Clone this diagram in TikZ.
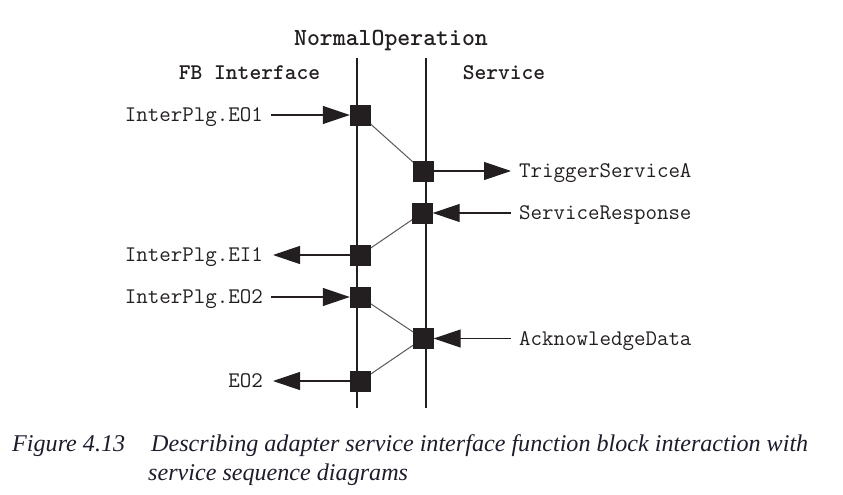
\documentclass[tikz,border=0pt]{standalone}
\usepackage{fontspec}
\usepackage{graphicx}
\setmainfont{Liberation Serif}
\usetikzlibrary{arrows.meta}
\pgfdeclarelayer{bg}
\pgfsetlayers{bg,main}
\definecolor{ink}{HTML}{231F20}
\definecolor{capink}{HTML}{1C1C2C}
\newlength\capw
\newsavebox\capbox
\begin{document}
\sbox\capbox{\itshape\fontsize{24}{28}\selectfont Describing adapter service interface function block interaction with}%
\setlength\capw{\wd\capbox}%
\pgfmathsetmacro\capsx{657/\capw}%
\begin{tikzpicture}[x=1pt,y=-1pt,
  blk/.style={fill=ink,draw=none,minimum size=21pt,inner sep=0pt},
  lbl/.style={font=\ttfamily\fontsize{22.3}{23}\selectfont,text=ink,inner xsep=4pt,inner ysep=0pt},
  hdr/.style={font=\ttfamily\bfseries\fontsize{22.4}{23}\selectfont,text=ink,inner sep=0pt},
  life/.style={draw=ink,line width=2.6pt},
  sig/.style={draw=ink,line width=1.2pt,-{Triangle[length=27pt,width=18pt]}},
  diag/.style={draw=ink!75,line width=1pt},
  capt/.style={font=\itshape\fontsize{24}{28}\selectfont,text=capink,inner sep=0pt,anchor=base west}]
\useasboundingbox (0,0) rectangle (843,495);

% headers
\node[hdr,font=\ttfamily\bfseries\fontsize{24.6}{25}\selectfont,anchor=base] (hno) at (391,46) {NormalOperation};
\node[hdr,anchor=base] (hfb) at (249.5,79.5) {FB Interface};
\node[hdr,anchor=base] (hsv) at (504,79.5) {Service};

% lifelines
\coordinate (lt) at (357,58);  \coordinate (lb) at (357,408);
\coordinate (rt) at (426,58);  \coordinate (rb) at (426,408);

% boxes
\node[blk] (b1) at (360.5,115) {};
\node[blk] (b2) at (423,171) {};
\node[blk] (b3) at (422,213) {};
\node[blk] (b4) at (360.5,255) {};
\node[blk] (b5) at (360.5,297) {};
\node[blk] (b6) at (423,338.5) {};
\node[blk] (b7) at (360.5,381) {};

% labels
\node[lbl,anchor=base east] (l1) at (267,121.5) {InterPlg.EO1};
\node[lbl,anchor=base west] (l2) at (515,177.5) {TriggerServiceA};
\node[lbl,anchor=base west] (l3) at (515,219.5) {ServiceResponse};
\node[lbl,anchor=base east] (l4) at (267,261.5) {InterPlg.EI1};
\node[lbl,anchor=base east] (l5) at (267,303.5) {InterPlg.EO2};
\node[lbl,anchor=base west] (l6) at (515,345) {AcknowledgeData};
\node[lbl,anchor=base east] (l7) at (267,387.5) {EO2};

\begin{pgfonlayer}{bg}
  \draw[life] (lt) -- (lb);
  \draw[life] (rt) -- (rb);
  \draw[diag] (b1.center) -- (b2.center);
  \draw[diag] (b3.center) -- (b4.center);
  \draw[diag] (b5.center) -- (b6.center);
  \draw[diag] (b6.center) -- (b7.center);
\end{pgfonlayer}

% signals
\draw[sig,shorten <=4pt] (l1.east |- b1) -- (b1.west);
\draw[sig,shorten >=4pt] (b2.east) -- (l2.west |- b2);
\draw[sig,shorten <=4pt] (l3.west |- b3) -- (b3.east);
\draw[sig,shorten >=6pt] (b4.west) -- (l4.east |- b4);
\draw[sig,shorten <=4pt] (l5.east |- b5) -- (b5.west);
\draw[sig,shorten <=4pt] (l6.west |- b6) -- (b6.east);
\draw[sig,shorten >=6pt] (b7.west) -- (l7.east |- b7);

% caption
\node[capt] (cf) at (12,451.7) {\scalebox{\capsx}[1]{Figure 4.13}};
\node[capt] (c1) at (151,451.7) {\scalebox{\capsx}[1]{Describing adapter service interface function block interaction with}};
\node[capt] (c2) at (148,480) {\scalebox{\capsx}[1]{service sequence diagrams}};
\end{tikzpicture}
\end{document}
